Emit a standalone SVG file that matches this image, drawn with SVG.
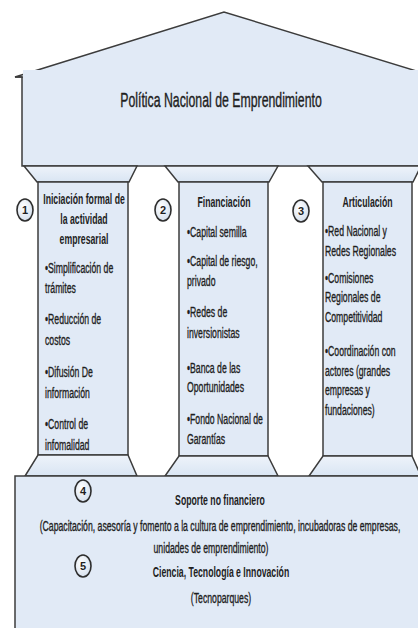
<svg xmlns="http://www.w3.org/2000/svg" width="418" height="628" viewBox="0 0 418 628">
  <defs>
    <linearGradient id="capg" x1="0" y1="0" x2="0" y2="1">
      <stop offset="0" stop-color="#eef3fa"/>
      <stop offset="1" stop-color="#d9e5f3"/>
    </linearGradient>
    <radialGradient id="circg" cx="0.4" cy="0.35" r="0.7">
      <stop offset="0" stop-color="#ffffff"/>
      <stop offset="1" stop-color="#d3deec"/>
    </radialGradient>
  </defs>
  <style>
    .shape { fill: #e1eaf6; stroke: #3c3c3c; stroke-width: 1.5; }
    .cap { fill: url(#capg); stroke: #3c3c3c; stroke-width: 1.5; }
    .circ { fill: url(#circg); stroke: #2e2e2e; stroke-width: 1.6; }
    text { font-family: "Liberation Sans", Arial, sans-serif; fill: #1e1e1e; }
    .t { font-size: 14.5px; stroke: #1e1e1e; stroke-width: 0.35px; }
    .b { font-size: 14.5px; font-weight: bold; }
    .c { text-anchor: middle; }
    .n { font-size: 11px; font-weight: bold; text-anchor: middle; }
    .title { font-size: 20.5px; text-anchor: middle; stroke: #1e1e1e; stroke-width: 0.4px; }
  </style>
  <rect width="418" height="628" fill="#ffffff"/>

  <g id="roof">
    <rect class="shape" x="22" y="76" width="420" height="90"/>
    <polygon class="shape" points="15,77 224,12 436,77"/>
    <rect x="23" y="70" width="418" height="95" fill="#e1eaf6"/>
    <line x1="15" y1="77" x2="22" y2="77" stroke="#3c3c3c" stroke-width="1.5"/>
    <text class="title" transform="matrix(0.6 0 0 1 221 107)">Política Nacional de Emprendimiento</text>
  </g>

  <g id="pillar-1">
    <polygon class="cap" points="24,166 137,166 129,182 37,182"/>
    <rect class="shape" x="38" y="182" width="90" height="273"/>
    <polygon class="cap" points="38,455 128,455 137,476 25,476"/>
    <text class="b c" transform="matrix(0.6 0 0 1 84 204)">Iniciación formal de</text>
    <text class="b c" transform="matrix(0.6 0 0 1 84 224)">la actividad</text>
    <text class="b c" transform="matrix(0.6 0 0 1 84 244)">empresarial</text>
    <text class="t" transform="matrix(0.6 0 0 1 45 273)">•Simplificación de</text>
    <text class="t" transform="matrix(0.6 0 0 1 45 293)">trámites</text>
    <text class="t" transform="matrix(0.6 0 0 1 45 324)">•Reducción de</text>
    <text class="t" transform="matrix(0.6 0 0 1 45 345)">costos</text>
    <text class="t" transform="matrix(0.6 0 0 1 45 377)">•Difusión De</text>
    <text class="t" transform="matrix(0.6 0 0 1 45 398)">información</text>
    <text class="t" transform="matrix(0.6 0 0 1 45 429)">•Control de</text>
    <text class="t" transform="matrix(0.6 0 0 1 45 450)">infomalidad</text>
  </g>

  <g id="pillar-2">
    <polygon class="cap" points="165,166 278,166 269,182 178,182"/>
    <rect class="shape" x="179" y="182" width="89" height="274"/>
    <polygon class="cap" points="179,456 268,456 278,476 165,476"/>
    <text class="b c" transform="matrix(0.6 0 0 1 224 207)">Financiación</text>
    <text class="t" transform="matrix(0.6 0 0 1 187 237)">•Capital semilla</text>
    <text class="t" transform="matrix(0.6 0 0 1 187 266)">•Capital de riesgo,</text>
    <text class="t" transform="matrix(0.6 0 0 1 187 286)">privado</text>
    <text class="t" transform="matrix(0.6 0 0 1 187 317)">•Redes de</text>
    <text class="t" transform="matrix(0.6 0 0 1 187 338)">inversionistas</text>
    <text class="t" transform="matrix(0.6 0 0 1 187 373)">•Banca de las</text>
    <text class="t" transform="matrix(0.6 0 0 1 187 392)">Oportunidades</text>
    <text class="t" transform="matrix(0.6 0 0 1 187 424)">•Fondo Nacional de</text>
    <text class="t" transform="matrix(0.6 0 0 1 187 444)">Garantías</text>
  </g>

  <g id="pillar-3">
    <polygon class="cap" points="308,166 421,166 413,182 322,182"/>
    <rect class="shape" x="323" y="182" width="89" height="274"/>
    <polygon class="cap" points="323,456 412,456 421,476 309,476"/>
    <text class="b c" transform="matrix(0.6 0 0 1 367.5 207)">Articulación</text>
    <text class="t" transform="matrix(0.6 0 0 1 325 236)">•Red Nacional y</text>
    <text class="t" transform="matrix(0.6 0 0 1 325 256)">Redes Regionales</text>
    <text class="t" transform="matrix(0.6 0 0 1 325 283)">•Comisiones</text>
    <text class="t" transform="matrix(0.6 0 0 1 325 302)">Regionales de</text>
    <text class="t" transform="matrix(0.6 0 0 1 325 322)">Competitividad</text>
    <text class="t" transform="matrix(0.6 0 0 1 325 356)">•Coordinación con</text>
    <text class="t" transform="matrix(0.6 0 0 1 325 376)">actores (grandes</text>
    <text class="t" transform="matrix(0.6 0 0 1 325 395)">empresas y</text>
    <text class="t" transform="matrix(0.6 0 0 1 325 415)">fundaciones)</text>
  </g>

  <g id="foundation">
    <rect class="shape" x="15" y="476" width="430" height="170"/>
    <text class="b c" transform="matrix(0.6 0 0 1 220 505)">Soporte no financiero</text>
    <text class="t c" transform="matrix(0.6 0 0 1 220 531)">(Capacitación, asesoría y fomento a la cultura de emprendimiento, incubadoras  de empresas,</text>
    <text class="t c" transform="matrix(0.6 0 0 1 211 553)">unidades de emprendimiento)</text>
    <text class="b c" transform="matrix(0.6 0 0 1 221 577)">Ciencia, Tecnología e Innovación</text>
    <text class="t c" transform="matrix(0.6 0 0 1 221 603)">(Tecnoparques)</text>
  </g>

  <g id="markers">
    <g id="marker-1"><ellipse class="circ" cx="25" cy="210" rx="8" ry="11"/><text class="n" x="25" y="214">1</text></g>
    <g id="marker-2"><ellipse class="circ" cx="163" cy="210" rx="8" ry="11"/><text class="n" x="163" y="214">2</text></g>
    <g id="marker-3"><ellipse class="circ" cx="301" cy="211" rx="8" ry="11"/><text class="n" x="301" y="215">3</text></g>
    <g id="marker-4"><ellipse class="circ" cx="83" cy="491" rx="8" ry="11"/><text class="n" x="83" y="495">4</text></g>
    <g id="marker-5"><ellipse class="circ" cx="83" cy="566" rx="8" ry="11"/><text class="n" x="83" y="570">5</text></g>
  </g>
</svg>
